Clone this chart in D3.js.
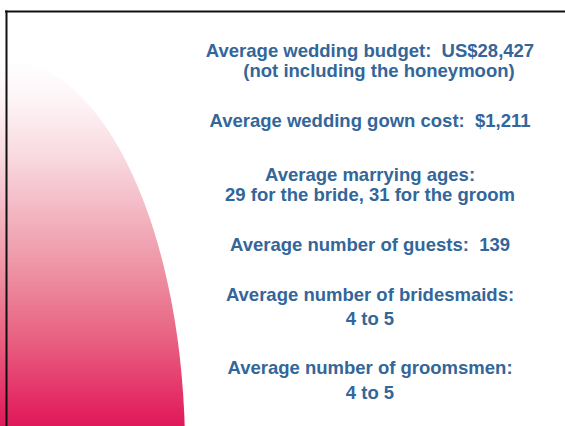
<!DOCTYPE html>
<html>
<head>
<meta charset="utf-8">
<script src="https://cdn.jsdelivr.net/npm/d3@7"></script>
<style>
  html, body { margin: 0; padding: 0; background: #fff; }
  svg { display: block; }
</style>
</head>
<body>
<div id="slide"></div>
<script>
// Wedding stats slide, text lines kept here as the data
const labels = [
    "Average wedding budget:",
    "Average wedding gown cost:",
    "Average marrying ages:",
    "Average number of guests:",
    "Average number of bridesmaids:",
    "Average number of groomsmen:"
];
const values = ["US$28,427", "$1,211", "29 for the bride, 31 for the groom", "139", "4 to 5", "4 to 5"];
const valueOnSameLine = [true, true, false, true, false, false];
const notes = ["(not including the honeymoon)", "", "", "", "", ""];

const width = 565;
const height = 426;

const svg = d3.select("#slide")
    .append("svg")
    .attr("width", width)
    .attr("height", height)
    .style("font-family", "'Liberation Sans', Arial, sans-serif");

svg.append("rect")
    .attr("width", width)
    .attr("height", height)
    .attr("fill", "#fff");

// pink gradient backdrop
const defs = svg.append("defs");
const grad = defs.append("linearGradient")
    .attr("id", "pinkGrad")
    .attr("gradientUnits", "userSpaceOnUse")
    .attr("x1", 0).attr("y1", 60)
    .attr("x2", 0).attr("y2", 426);
const gradStops = [
    [0, "#ffffff"],
    [0.12, "#fdf3f5"],
    [0.27, "#f8d8de"],
    [0.55, "#ee98a8"],
    [0.765, "#e86080"],
    [0.97, "#e2205f"],
    [1, "#e01a5a"]
];
grad.selectAll("stop")
    .data(gradStops)
    .join("stop")
    .attr("offset", d => d[0])
    .attr("stop-color", d => d[1]);

svg.append("ellipse")
    .attr("cx", 5)
    .attr("cy", 450)
    .attr("rx", 180)
    .attr("ry", 390)
    .attr("fill", "url(#pinkGrad)");

// frame lines
svg.append("line")
    .attr("x1", 5).attr("x2", width)
    .attr("y1", 11.5).attr("y2", 11.5)
    .attr("stroke", "#111").attr("stroke-width", 2);
svg.append("line")
    .attr("x1", 6.5).attr("x2", 6.5)
    .attr("y1", 10.5).attr("y2", height)
    .attr("stroke", "#111").attr("stroke-width", 2);

// text blocks
const blockY = d3.scaleOrdinal()
    .domain(labels)
    .range([57, 127, 181, 251, 301, 374]);
const lineGap = [20, 20, 20, 20, 24, 25];
const centerX = 370;

const textColor = "#336699";
const fontSize = 18.5;

const blocks = svg.append("g")
    .selectAll("g")
    .data(labels.map((l, i) => ({
        label: l,
        value: values[i],
        inline: valueOnSameLine[i],
        note: notes[i],
        gap: lineGap[i]
    })))
    .join("g")
    .attr("transform", d => `translate(${centerX},${blockY(d.label)})`)
    .attr("fill", textColor)
    .attr("font-weight", "bold")
    .attr("font-size", fontSize)
    .attr("text-anchor", "middle");

blocks.append("text")
    .text(d => d.inline ? `${d.label}\u00a0 ${d.value}` : d.label);

blocks.filter(d => !d.inline)
    .append("text")
    .attr("y", d => d.gap)
    .text(d => d.value);

blocks.filter(d => d.note)
    .append("text")
    .attr("x", 9)
    .attr("y", d => d.gap)
    .text(d => d.note);
</script>
</body>
</html>
